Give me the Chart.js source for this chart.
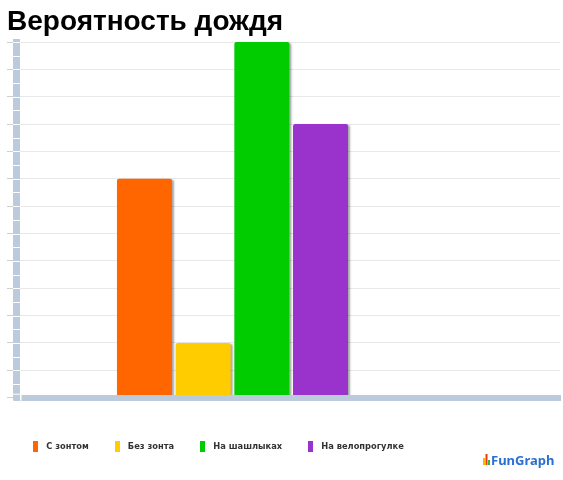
<!DOCTYPE html>
<html>
<head>
<meta charset="utf-8">
<script src="https://cdn.jsdelivr.net/npm/chart.js@4.4.1/dist/chart.umd.min.js"></script>
<style>
html,body{margin:0;padding:0;background:#fff;}
#wrap{width:563px;height:480px;position:relative;}
</style>
</head>
<body>
<div id="wrap"><canvas id="c" width="563" height="480"></canvas></div>
<script>
const chartTitle = 'Вероятность дождя';
const categories = ['С зонтом', 'Без зонта', 'На шашлыках', 'На велопрогулке'];
const values = [40, 10, 65, 50];
const colors = ['#ff6600', '#ffcc00', '#00cc00', '#9933cc'];
const yMax = 65;
const yMajorStep = 5;
const yMinorStep = 2.5;
const logoText = 'FunGraph';

function markerCanvas(color) {
  const c = document.createElement('canvas');
  c.width = 5; c.height = 11;
  const g = c.getContext('2d');
  g.fillStyle = color;
  g.fillRect(0, 0, 5, 11);
  return c;
}

const isMajor = v => Math.abs(v / yMajorStep - Math.round(v / yMajorStep)) < 1e-6;

const decor = {
  id: 'decor',
  beforeDatasetsDraw(chart) {
    const ctx = chart.ctx;
    ctx.save();
    ctx.shadowColor = 'rgba(0,0,0,0.35)';
    ctx.shadowOffsetX = 2;
    ctx.shadowOffsetY = 1;
    ctx.shadowBlur = 2;
  },
  afterDatasetsDraw(chart) {
    chart.ctx.restore();
  },
  afterDraw(chart) {
    const ctx = chart.ctx;
    const y = chart.scales.y;
    const area = chart.chartArea;
    const bw = y.options.border.width;
    const left = area.left - bw / 2;
    ctx.save();
    ctx.strokeStyle = '#ffffff';
    ctx.lineWidth = 1;
    y.ticks.forEach(t => {
      if (t.value === 0) return;
      const py = Math.round(y.getPixelForValue(t.value)) + 0.5;
      ctx.beginPath();
      ctx.moveTo(left, py);
      ctx.lineTo(left + bw, py);
      ctx.stroke();
    });
    const xb = chart.scales.x.options.border.width;
    ctx.fillStyle = '#bccbdb';
    ctx.fillRect(left, area.bottom - xb / 2, bw, xb);
    ctx.fillStyle = '#ffffff';
    ctx.fillRect(left + bw, area.bottom - xb / 2, 1.5, xb);
    ctx.fillRect(left, area.bottom - xb / 2 - 1, bw, 1);
    const lx = chart.width - 80, ly = chart.height - 16;
    ctx.fillStyle = '#ffb400'; ctx.fillRect(lx, ly - 6, 2, 7);
    ctx.fillStyle = '#e53a1e'; ctx.fillRect(lx + 2.5, ly - 10, 2, 11);
    ctx.fillStyle = '#3cb43c'; ctx.fillRect(lx + 5, ly - 4, 2, 5);
    ctx.fillStyle = '#2b6fd0';
    ctx.font = 'bold 13px "Noto Sans", sans-serif';
    ctx.textBaseline = 'alphabetic';
    ctx.fillText(logoText, lx + 8, ly + 1);
    ctx.restore();
  }
};

const datasets = categories.map((name, i) => ({
  label: name,
  data: [{ x: i, y: values[i] }],
  backgroundColor: colors[i],
  borderWidth: 0,
  borderRadius: 2,
  borderSkipped: false,
  grouped: false,
  categoryPercentage: 1,
  barPercentage: 0.937
}));

new Chart(document.getElementById('c'), {
  type: 'bar',
  data: { datasets },
  options: {
    responsive: false,
    animation: false,
    layout: { padding: { left: 7, right: 3, top: 0, bottom: 19 } },
    plugins: {
      title: {
        display: true,
        text: chartTitle,
        align: 'start',
        color: '#000',
        font: { family: '"Liberation Sans", Arial, sans-serif', size: 28, weight: 'bold' },
        padding: { top: 5.5, bottom: 2.9 }
      },
      legend: {
        position: 'bottom',
        align: 'start',
        labels: {
          usePointStyle: true,
          pointStyleWidth: 13,
          padding: 22,
          color: '#333',
          font: { family: '"DejaVu Sans", Verdana, sans-serif', size: 8.3, weight: 'bold' },
          generateLabels(chart) {
            const items = Chart.defaults.plugins.legend.labels.generateLabels(chart);
            items.forEach((it, i) => { it.pointStyle = markerCanvas(colors[i]); });
            return items;
          }
        }
      },
      tooltip: { enabled: false }
    },
    scales: {
      x: {
        type: 'linear',
        min: -2.18,
        max: 7.08,
        afterBuildTicks(scale) { scale.ticks = []; },
        ticks: { display: false },
        grid: { display: false, drawTicks: true, tickLength: 23, tickColor: 'transparent' },
        border: { display: true, color: '#bccbdb', width: 6, z: 1 }
      },
      y: {
        min: 0,
        max: yMax,
        ticks: { display: false, stepSize: yMinorStep },
        grid: {
          drawTicks: true,
          tickLength: 9.5,
          color: ctx => (ctx.tick && isMajor(ctx.tick.value) && ctx.tick.value !== 0) ? '#e8e8e8' : 'transparent',
          tickColor: ctx => (ctx.tick && isMajor(ctx.tick.value)) ? '#d0d0d0' : 'transparent'
        },
        border: { display: true, color: '#bccbdb', width: 7, z: 2 }
      }
    }
  },
  plugins: [decor]
});
</script>
</body>
</html>
